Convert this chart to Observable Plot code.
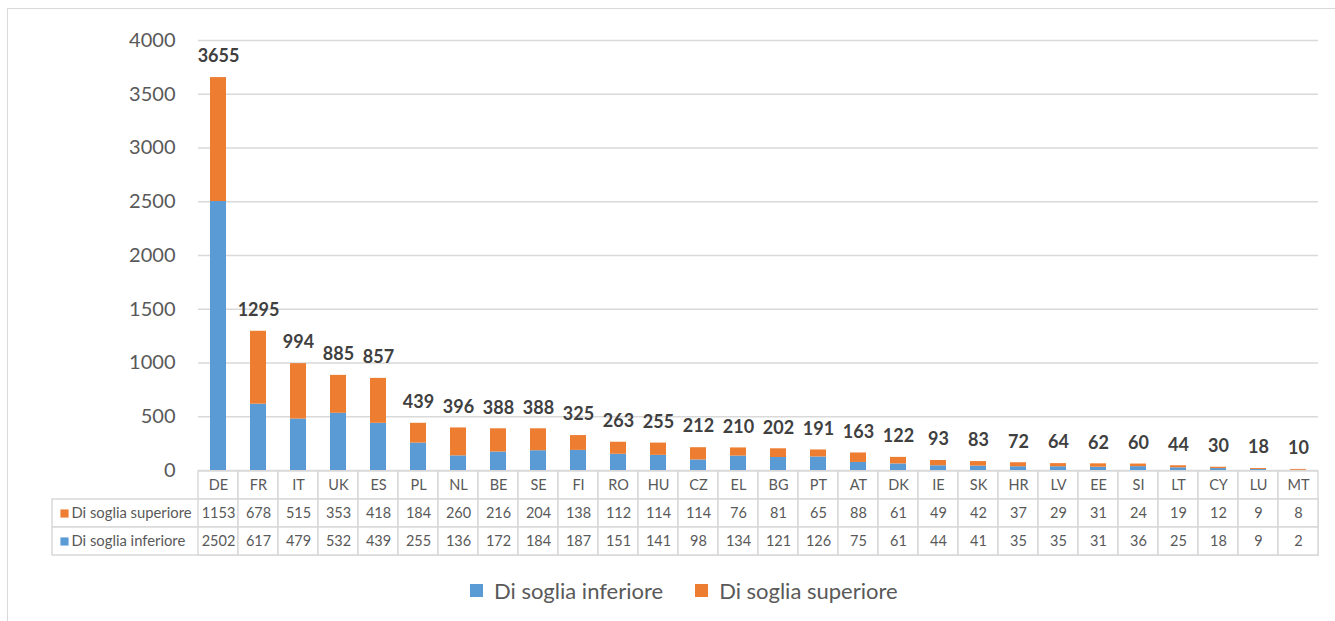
<!DOCTYPE html>
<html><head><meta charset="utf-8">
<script src="https://cdn.jsdelivr.net/npm/d3@7"></script>
<script src="https://cdn.jsdelivr.net/npm/@observablehq/plot@0.6"></script>
<style>
body{margin:0;background:#fff;font-family:Lato,sans-serif;}
#wrap{position:relative;width:1335px;height:621px;overflow:hidden;background:#fff;}
#border{position:absolute;left:7px;top:8px;width:1400px;height:700px;border:1.5px solid #D9D9D9;}
#chart,#table,#legend{position:absolute;left:0;}
#chart{top:0;}
#table{top:470px;}
#legend{top:574px;left:470px;}
.lg-swatch{margin-right:32px !important;}
</style></head><body>
<div id="wrap"><div id="border"></div><div id="chart"></div><div id="table"></div><div id="legend"></div></div>
<script>
const countries = ["DE","FR","IT","UK","ES","PL","NL","BE","SE","FI","RO","HU","CZ","EL","BG","PT","AT","DK","IE","SK","HR","LV","EE","SI","LT","CY","LU","MT"];
const inferiore = [2502,617,479,532,439,255,136,172,184,187,151,141,98,134,121,126,75,61,44,41,35,35,31,36,25,18,9,2];
const superiore = [1153,678,515,353,418,184,260,216,204,138,112,114,114,76,81,65,88,61,49,42,37,29,31,24,19,12,9,8];
const totals = [3655,1295,994,885,857,439,396,388,388,325,263,255,212,210,202,191,163,122,93,83,72,64,62,60,44,30,18,10];
const seriesNames = ["Di soglia inferiore","Di soglia superiore"];
const colors = ["#5B9BD5","#ED7D31"];
const yTicks = [0,500,1000,1500,2000,2500,3000,3500,4000];

const rows = countries.flatMap((c,i)=>[
  {country:c, serie:seriesNames[0], value:inferiore[i]},
  {country:c, serie:seriesNames[1], value:superiore[i]}
]);
const totalRows = countries.map((c,i)=>({country:c, total:totals[i], label:String(totals[i])}));

const font = "Lato, 'Open Sans', sans-serif";

const chart = Plot.plot({
  width:1335, height:500, marginLeft:198, marginRight:17, marginTop:40, marginBottom:30,
  style:{fontFamily:font, background:"transparent", overflow:"visible"},
  x:{domain:countries, padding:0, axis:null},
  y:{domain:[0,4000]},
  color:{domain:seriesNames, range:colors},
  marks:[
    Plot.gridY(yTicks, {stroke:"#D9D9D9", strokeOpacity:1, strokeWidth:1.5}),
    Plot.axisY(yTicks, {tickSize:0, tickPadding:23, fontSize:20, color:"#595959", label:null, tickFormat:d=>String(d)}),
    Plot.barY(rows, {x:"country", y:"value", fill:"serie", insetLeft:12, insetRight:12}),
    Plot.text(totalRows, {x:"country", y:"total", text:"label", dy:-21, fontWeight:"bold", fontSize:18, fill:"#404040"})
  ]
});
document.getElementById("chart").appendChild(chart);

const rowKeys = ["hdr","sup","inf"];
const cells = countries.flatMap((c,i)=>[
  {country:c, row:"hdr", text:c},
  {country:c, row:"sup", text:String(superiore[i])},
  {country:c, row:"inf", text:String(inferiore[i])}
]);
const labelRows = [
  {row:"sup", name:seriesNames[1], serie:seriesNames[1]},
  {row:"inf", name:seriesNames[0], serie:seriesNames[0]}
];

const table = Plot.plot({
  width:1335, height:86, marginLeft:198, marginRight:17, marginTop:1, marginBottom:1,
  style:{fontFamily:font, background:"transparent", overflow:"visible"},
  x:{domain:countries, padding:0, axis:null},
  y:{domain:rowKeys, padding:0, axis:null},
  color:{domain:seriesNames, range:colors},
  marks:[
    Plot.cell(labelRows, {y:"row", fill:"white", stroke:"#D9D9D9", strokeWidth:1.5, insetLeft:-146}),
    Plot.cell(cells, {x:"country", y:"row", fill:"white", stroke:"#D9D9D9", strokeWidth:1.5}),
    Plot.text(cells, {x:"country", y:"row", text:"text", fontSize:14.5, fill:"#595959"}),
    Plot.dot(labelRows, {y:"row", frameAnchor:"left", dx:-134, symbol:"square", r:4.6, fill:"serie"}),
    Plot.text(labelRows, {y:"row", text:"name", frameAnchor:"left", textAnchor:"start", dx:-127, fontSize:14.8, fill:"#595959"})
  ]
});
document.getElementById("table").appendChild(table);

const legend = Plot.legend({
  color:{domain:seriesNames, range:colors},
  legend:"swatches", swatchSize:13, className:"lg",
  style:{fontFamily:font, fontSize:"22px", color:"#595959"}
});
document.getElementById("legend").appendChild(legend);
</script>
</body></html>
